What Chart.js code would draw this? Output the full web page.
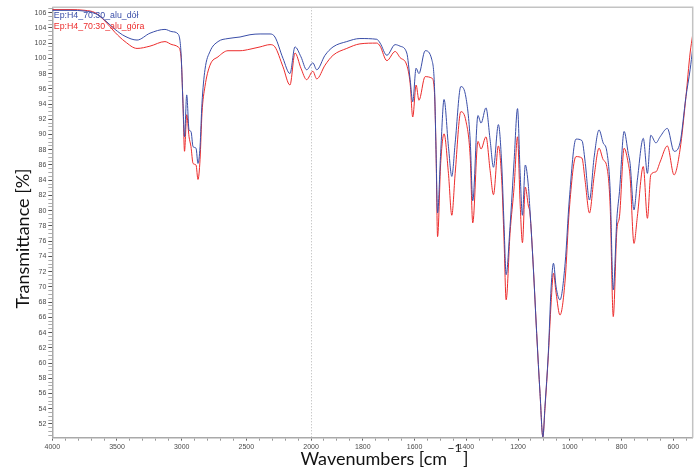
<!DOCTYPE html>
<html>
<head>
<meta charset="utf-8">
<script src="https://cdn.jsdelivr.net/npm/chart.js@4.4.1/dist/chart.umd.min.js"></script>
<style>
  html, body { margin: 0; padding: 0; background: #ffffff; }
  #wrap { position: relative; width: 700px; height: 473px; }
</style>
</head>
<body>
<div id="wrap"><canvas id="c" width="700" height="473"></canvas></div>
<script>
// ---- data ----
const wavenumbers = [4000,3863,3747,3670,3593,3515,3438,3345,3245,3129,3075,3028,3005,2990,2978,2961,2943,2928,2912,2889,2874,2858,2843,2820,2781,2719,2642,2549,2472,2394,2317,2279,2217,2163,2124,2078,2034,1993,1978,1946,1915,1862,1811,1746,1733,1707,1675,1656,1630,1617,1607,1594,1583,1559,1533,1523,1517,1511,1499,1486,1469,1456,1443,1421,1401,1385,1375,1355,1343,1324,1308,1295,1276,1263,1254,1246,1231,1215,1202,1192,1183,1172,1160,1154,1141,1128,1115,1104,1096,1083,1072,1063,1053,1038,1018,1002,976,953,941,924,906,887,871,857,844,832,818,808,790,774,767,752,739,716,700,687,667,651,623,597,574,551,535,525];

const transmittanceDol = [106.3,106.3,106.2,105.9,105.0,103.8,102.9,102.4,103.3,103.8,103.5,103.2,100.7,94.1,89.7,95.2,90.6,90.4,88.4,88.2,86.2,88.4,94.1,98.5,100.9,102.2,102.6,102.8,103.1,103.2,103.2,102.8,100.0,98.0,101.5,100.2,98.5,99.4,98.5,100.4,101.5,102.2,102.6,102.5,102.0,100.4,101.8,101.6,100.7,97.2,94.3,98.7,98.0,101.0,99.8,96.3,88.0,79.7,87.6,94.6,88.4,84.5,88.9,96.3,94.8,89.3,81.3,92.5,91.5,93.5,89.3,85.7,91.3,86.0,78.0,71.6,77.9,86.7,93.4,85.0,79.4,86.0,83.2,80.1,72.6,63.9,56.0,50.3,54.3,61.3,70.0,73.1,70.0,68.3,73.1,81.4,89.4,89.2,86.5,81.4,87.0,90.6,88.9,87.8,82.7,69.6,79.0,82.5,90.4,87.5,86.2,80.1,84.0,89.5,84.9,89.9,88.9,89.7,90.8,87.8,88.9,95.0,98.5,101.3];

const transmittanceGora = [106.4,106.4,106.3,106.0,104.9,103.4,102.2,101.3,101.6,102.2,101.8,101.5,100.2,94.1,87.8,92.6,89.7,88.4,86.2,86.0,84.1,86.7,92.8,96.3,99.1,100.2,101.0,101.0,101.2,101.5,101.8,101.5,98.9,96.5,100.7,98.7,97.2,98.3,97.3,99.1,100.4,101.3,101.9,102.0,101.6,99.7,100.9,100.1,99.1,96.7,92.3,96.5,94.5,97.6,97.4,95.5,88.0,76.6,86.2,90.1,84.9,79.4,84.9,93.0,91.7,87.1,78.4,89.1,88.1,89.7,85.3,82.1,88.5,84.0,76.0,68.3,77.0,83.2,89.7,81.0,75.8,83.1,80.6,79.7,72.6,63.9,56.0,50.3,54.0,61.0,68.0,71.8,69.2,66.3,70.9,80.1,87.1,86.9,84.0,79.7,84.5,88.2,86.7,85.8,80.6,66.1,77.5,79.2,88.2,86.2,84.5,75.7,79.2,85.8,79.0,84.7,85.1,86.4,88.5,84.7,88.0,95.0,100.7,103.1];

const seriesNames = ['Ep:H4_70:30_alu_dół', 'Ep:H4_70:30_alu_góra'];
const seriesColors = ['rgb(58,78,168)', 'rgb(236,44,44)'];
const xTickLabels = [4000,3500,3000,2500,2000,1800,1600,1400,1200,1000,800,600];
const yTickLabels = [52,54,56,58,60,62,64,66,68,70,72,74,76,78,80,82,84,86,88,90,92,94,96,98,100,102,104,106];
const xTitle = ['Wavenumbers [cm', '\u22121', ']'];
const yTitle = 'Transmittance [%]';

// ---- split wavenumber axis: below 2000 cm-1 the scale is doubled ----
const X_BREAK = 2000, X_START = 4000, X_END = 525, Y_MIN = 50.2, Y_MAX = 106.7;
function axisPos(w) { return w >= X_BREAK ? X_START - w : (X_START - X_BREAK) + 2 * (X_BREAK - w); }
function axisWave(p) { return p <= (X_START - X_BREAK) ? X_START - p : X_BREAK - (p - (X_START - X_BREAK)) / 2; }

// tick positions (major labelled, minor unlabelled)
const xTickWaves = [];
for (let w = 4000; w >= 2000; w -= 100) xTickWaves.push(w);
for (let w = 1950; w >= 550; w -= 50) xTickWaves.push(w);
const yTickValues = [];
for (let k = 101; k <= 213; k++) yTickValues.push(k / 2);

function toPoints(vals) { return wavenumbers.map((w, i) => ({ x: axisPos(w), y: vals[i] })); }

const decorPlugin = {
  id: 'decor',
  beforeDatasetsDraw(chart) {
    const { ctx, chartArea: a, scales: { x } } = chart;
    const px = x.getPixelForValue(axisPos(X_BREAK));
    ctx.save();
    ctx.strokeStyle = '#b4b4b4';
    ctx.lineWidth = 1;
    ctx.setLineDash([1, 2]);
    ctx.beginPath();
    ctx.moveTo(Math.round(px) + 0.5, a.top);
    ctx.lineTo(Math.round(px) + 0.5, a.bottom);
    ctx.stroke();
    ctx.restore();
  },
  afterDraw(chart) {
    const { ctx, chartArea: a } = chart;
    ctx.save();
    // frame top and right
    ctx.strokeStyle = '#c3c3c3';
    ctx.lineWidth = 1.5;
    ctx.beginPath();
    ctx.moveTo(a.left, a.top);
    ctx.lineTo(a.right, a.top);
    ctx.lineTo(a.right, a.bottom);
    ctx.stroke();
    // legend inside the plot
    ctx.font = '8.8px "Liberation Sans", Arial, sans-serif';
    ctx.textAlign = 'left';
    ctx.textBaseline = 'middle';
    chart.data.datasets.forEach((ds, i) => {
      ctx.fillStyle = ds.borderColor;
      ctx.fillText(ds.label, a.left + 1.5, a.top + 8 + i * 11.3);
    });
    // y title
    ctx.fillStyle = '#111';
    ctx.font = '18px Lato, "Open Sans", sans-serif';
    ctx.textAlign = 'center';
    ctx.textBaseline = 'alphabetic';
    ctx.translate(28.5, (a.top + a.bottom) / 2 + 16);
    ctx.rotate(-Math.PI / 2);
    ctx.fillText(yTitle, 0, 0);
    ctx.restore();
    // x title with superscript
    ctx.save();
    ctx.fillStyle = '#111';
    ctx.textBaseline = 'alphabetic';
    ctx.textAlign = 'left';
    const big = '18px Lato, "Open Sans", sans-serif';
    const small = '12px Lato, "Open Sans", sans-serif';
    ctx.font = big; const w0 = ctx.measureText(xTitle[0]).width; const w2 = ctx.measureText(xTitle[2]).width;
    ctx.font = small; const w1 = ctx.measureText(xTitle[1]).width;
    const total = w0 + w1 + 2 + w2;
    let sx = (a.left + a.right) / 2 + 12 - total / 2;
    const base = 465;
    ctx.font = big; ctx.fillText(xTitle[0], sx, base);
    ctx.font = small; ctx.fillText(xTitle[1], sx + w0 + 0.5, base - 13);
    ctx.font = big; ctx.fillText(xTitle[2], sx + w0 + w1 + 2, base);
    ctx.restore();
  }
};

new Chart(document.getElementById('c'), {
  type: 'line',
  data: {
    datasets: [
      { label: seriesNames[0], data: toPoints(transmittanceDol), borderColor: seriesColors[0], borderWidth: 1, pointRadius: 0, fill: false, cubicInterpolationMode: 'monotone' },
      { label: seriesNames[1], data: toPoints(transmittanceGora), borderColor: seriesColors[1], borderWidth: 1, pointRadius: 0, fill: false, cubicInterpolationMode: 'monotone' }
    ]
  },
  options: {
    responsive: false,
    animation: false,
    devicePixelRatio: 1,
    layout: { padding: { left: 0, right: 7.3, top: 7.3, bottom: 0 } },
    plugins: { legend: { display: false }, tooltip: { enabled: false } },
    scales: {
      x: {
        type: 'linear',
        min: axisPos(X_START),
        max: axisPos(X_END),
        afterBuildTicks: (s) => { s.ticks = xTickWaves.map(w => ({ value: axisPos(w) })); },
        afterFit: (s) => { s.height = 35.3; },
        ticks: {
          autoSkip: false, maxRotation: 0, minRotation: 0, padding: 2,
          font: { family: '"Liberation Sans", Arial, sans-serif', size: 7 },
          color: '#4a4a4a',
          callback: (v) => { const w = Math.round(axisWave(v)); return xTickLabels.includes(w) ? String(w) : ''; }
        },
        grid: {
          display: true, drawOnChartArea: false, drawTicks: true, tickLength: 3,
          tickColor: (c) => xTickLabels.includes(Math.round(axisWave(c.tick ? c.tick.value : 0))) ? '#666' : '#999'
        },
        border: { display: true, color: '#a9a9a9', width: 1.5 }
      },
      y: {
        type: 'linear',
        min: Y_MIN,
        max: Y_MAX,
        afterBuildTicks: (s) => { s.ticks = yTickValues.map(v => ({ value: v })); },
        afterFit: (s) => { s.width = 52.3; },
        ticks: {
          autoSkip: false, padding: 2,
          font: { family: '"Liberation Sans", Arial, sans-serif', size: 7 },
          color: '#4a4a4a',
          callback: (v) => yTickLabels.includes(v) ? String(v) : ''
        },
        grid: {
          display: true, drawOnChartArea: false, drawTicks: true, tickLength: 4,
          tickColor: (c) => (c.tick && yTickLabels.includes(c.tick.value)) ? '#555' : '#aaa'
        },
        border: { display: true, color: '#a9a9a9', width: 1.5 }
      }
    }
  },
  plugins: [decorPlugin]
});
</script>
</body>
</html>
